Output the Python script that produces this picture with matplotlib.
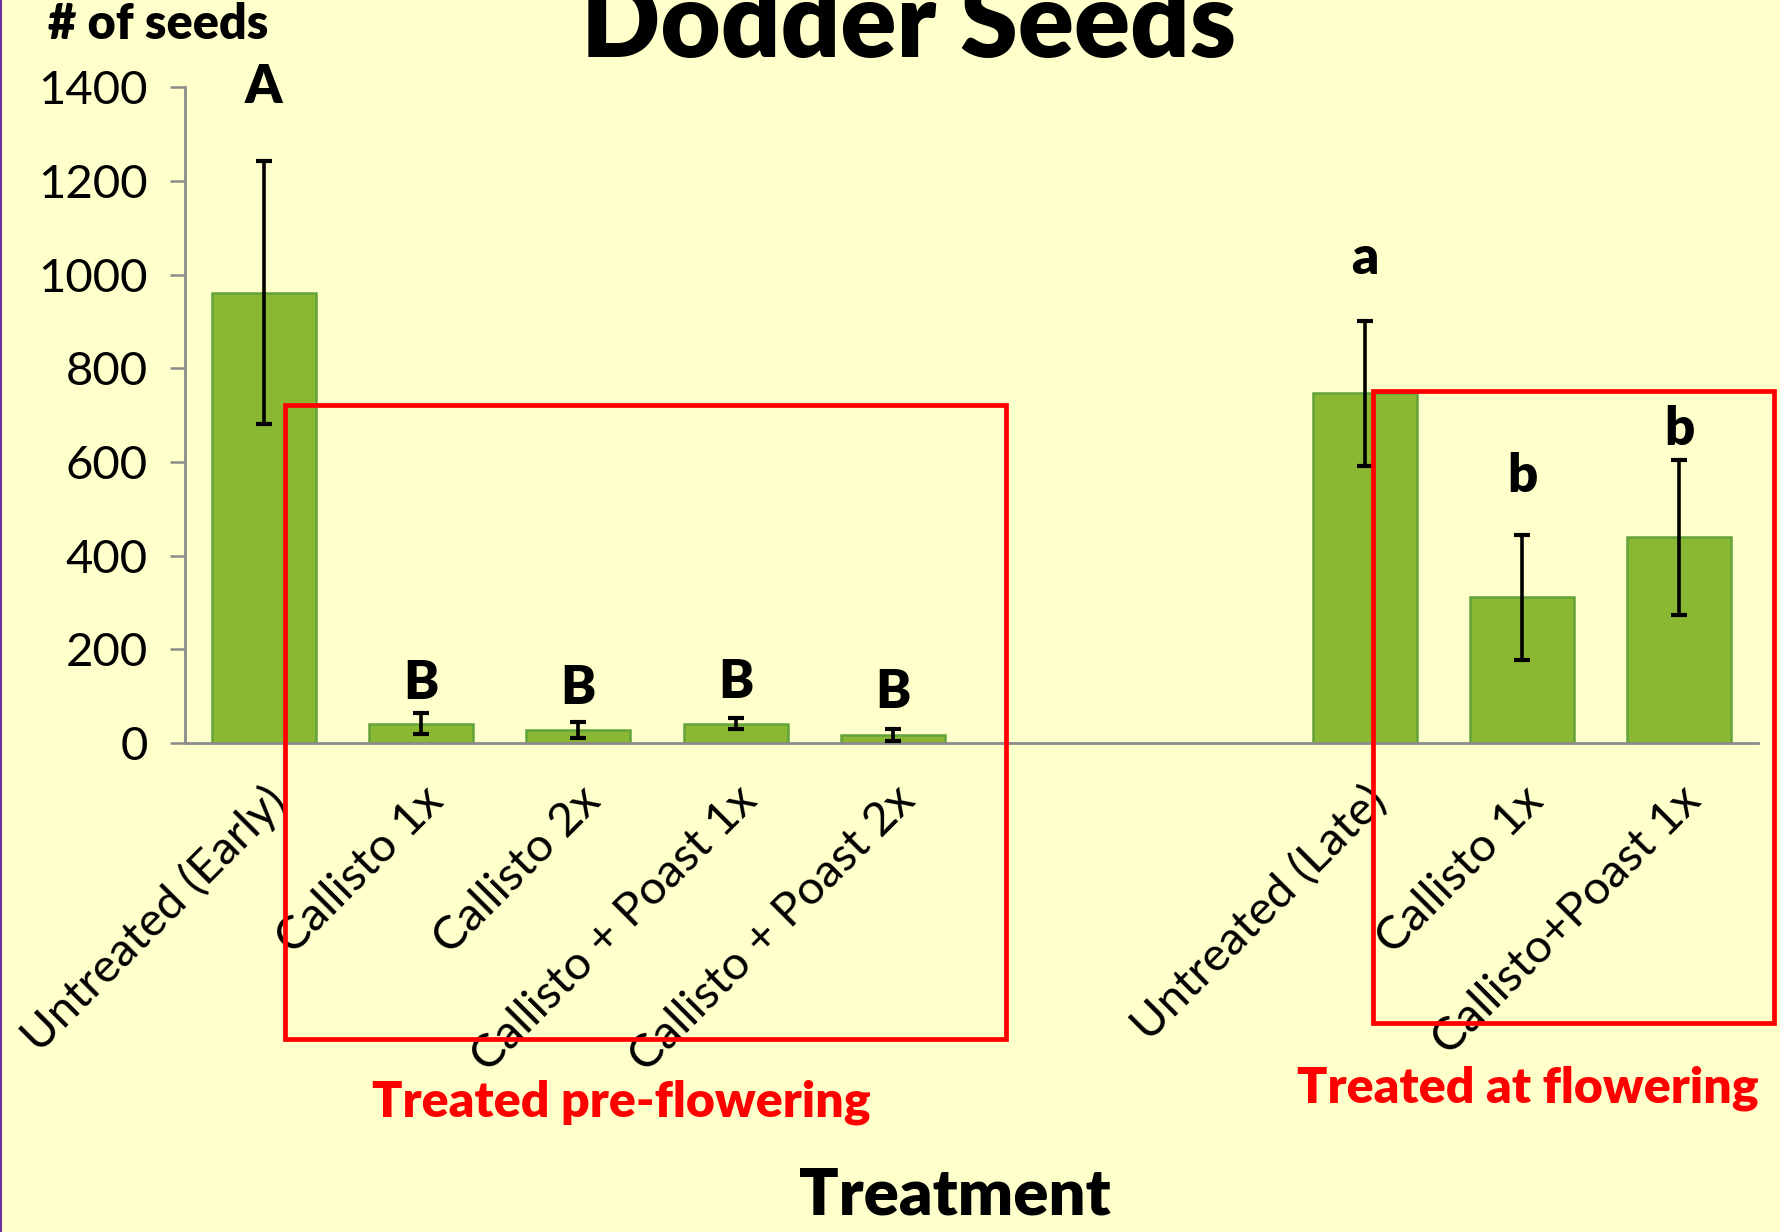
import numpy as np
import matplotlib
matplotlib.use("Agg")
import matplotlib.pyplot as plt
from matplotlib.patches import Rectangle
from matplotlib.lines import Line2D

# data
labels = ["Untreated (Early)", "Callisto 1x", "Callisto 2x", "Callisto + Poast 1x",
          "Callisto + Poast 2x", "Untreated (Late)", "Callisto 1x", "Callisto+Poast 1x"]
slots = [0, 1, 2, 3, 4, 7, 8, 9]
seeds = [962, 41, 27, 41, 17, 747, 311, 439]
err = [281, 23, 17, 12, 13, 155, 133, 166]
letters = ["A", "B", "B", "B", "B", "a", "b", "b"]
letter_y = [1400, 126, 116, 128, 107, 1034, 568, 670]

bg = "#FFFFCC"
font = "Lato"

fig = plt.figure(figsize=(17.81, 12.32), dpi=100, facecolor=bg)
ax = fig.add_axes([0.104, 0.397, 0.883, 0.532])
ax.set_facecolor(bg)

ax.bar(slots, seeds, width=0.66, color="#8AB833", edgecolor="#62A33C", linewidth=1.8, zorder=2)
ax.errorbar(slots, seeds, yerr=err, fmt="none", ecolor="black", elinewidth=2.6,
            capsize=6, capthick=3, zorder=3)

for x, t, y in zip(slots, letters, letter_y):
    ax.text(x, y, t, ha="center", va="center", fontsize=38, fontweight="heavy",
            family=font, color="black")

ax.set_xlim(-0.5, 9.5)
ax.set_ylim(0, 1400)
ax.set_yticks(np.arange(0, 1401, 200))
ax.tick_params(axis="y", length=11, width=1.8, color="#8C8C8C", labelsize=34, pad=16)
ax.set_xticks(slots)
ax.set_xticklabels(labels, rotation=45, ha="right", rotation_mode="anchor",
                   fontsize=34, family=font)
ax.tick_params(axis="x", length=0, pad=26)
for lab in ax.get_yticklabels():
    lab.set_family(font)

for s in ["top", "right"]:
    ax.spines[s].set_visible(False)
for s in ["left", "bottom"]:
    ax.spines[s].set_color("#8C8C8C")
    ax.spines[s].set_linewidth(2)

# red boxes around treatment groups
fig.patches.append(Rectangle((0.160, 0.157), 0.405, 0.514, transform=fig.transFigure,
                             fill=False, edgecolor="#FF0000", linewidth=3.4, zorder=5))
fig.patches.append(Rectangle((0.771, 0.170), 0.225, 0.513, transform=fig.transFigure,
                             fill=False, edgecolor="#FF0000", linewidth=3.4, zorder=5))

fig.text(0.349, 0.105, "Treated pre-flowering", color="#FF0000", fontsize=36,
         fontweight="heavy", family=font, ha="center", va="center")
fig.text(0.858, 0.117, "Treated at flowering", color="#FF0000", fontsize=36,
         fontweight="heavy", family=font, ha="center", va="center")

fig.text(0.536, 0.029, "Treatment", fontsize=47, fontweight="heavy", family=font,
         ha="center", va="center")
fig.text(0.027, 0.980, "# of seeds", fontsize=35, fontweight="heavy", family=font,
         ha="left", va="center")
fig.text(0.510, 0.954, "Dodder Seeds", fontsize=75, fontweight="heavy", family=font,
         ha="center", va="baseline")

fig.lines.append(Line2D([0.0008, 0.0008], [0, 1], transform=fig.transFigure,
                        color="#7030A0", linewidth=1.5))

fig.savefig("out.png", dpi=100, facecolor=bg)
